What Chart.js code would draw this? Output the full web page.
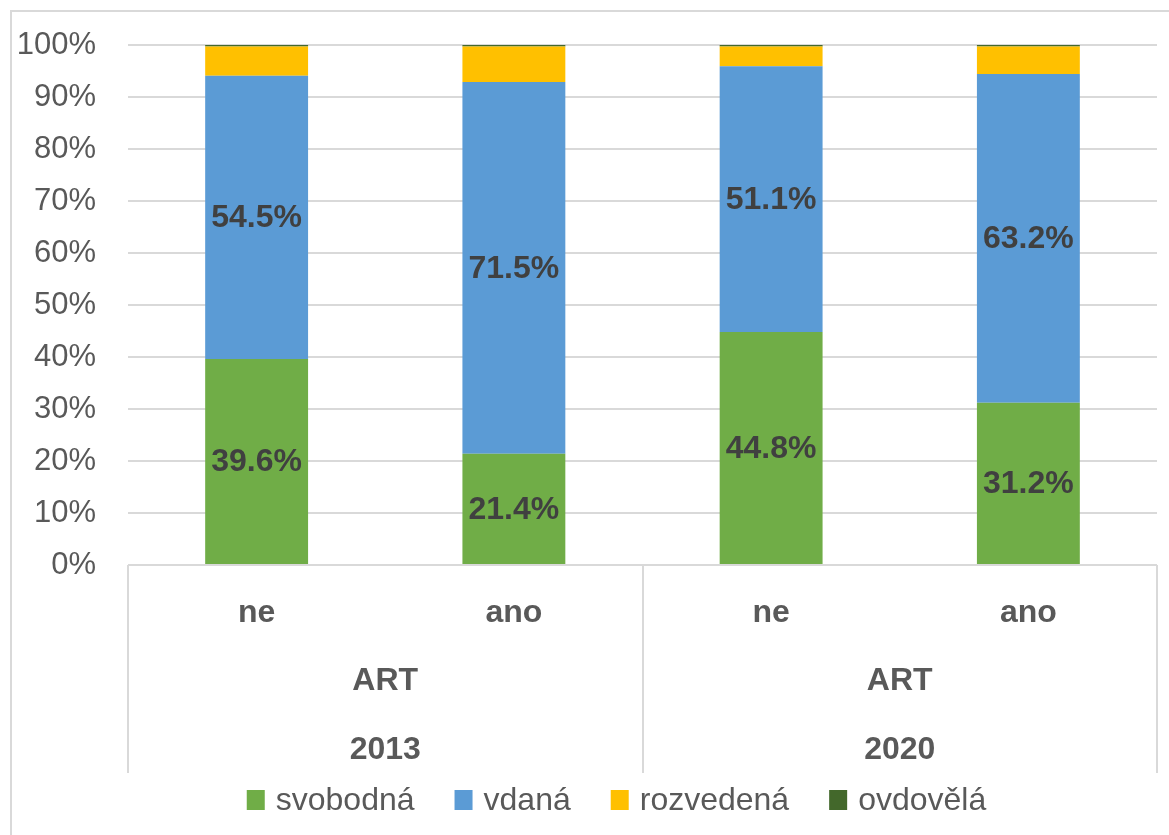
<!DOCTYPE html>
<html>
<head>
<meta charset="utf-8">
<script src="https://cdn.jsdelivr.net/npm/chart.js@4"></script>
<style>
  html, body { margin: 0; padding: 0; background: #ffffff; overflow: hidden; }
  #wrap { position: relative; width: 1169px; height: 835px; }
  #frame { position: absolute; left: 10px; top: 10px; width: 1200px; height: 900px;
           border-top: 2px solid #d9d9d9; border-left: 2px solid #d9d9d9; pointer-events: none; }
  canvas { position: absolute; left: 0; top: 0; }
</style>
</head>
<body>
<div id="wrap">
  <canvas id="c" width="1169" height="835"></canvas>
  <div id="frame"></div>
</div>
<script>
// ---- data ----
const categories = ['ne', 'ano', 'ne', 'ano'];
const groupLabels = ['ART', 'ART'];
const yearLabels = ['2013', '2020'];
const seriesNames = ['svobodná', 'vdaná', 'rozvedená', 'ovdovělá'];
const svobodna = [39.6, 21.4, 44.8, 31.2];
const vdana = [54.5, 71.5, 51.1, 63.2];
const rozvedena = [5.6, 6.8, 3.8, 5.3];
const ovdovela = [0.3, 0.3, 0.3, 0.3];
const yTicks = [0, 10, 20, 30, 40, 50, 60, 70, 80, 90, 100];
const labeledSeries = [0, 1];

const FONT = "'Liberation Sans', Arial, sans-serif";
const colors = ['#70AD47', '#5B9BD5', '#FFC000', '#43682B'];

const dataLabelPlugin = {
  id: 'dataLabels',
  afterDatasetsDraw(chart) {
    const ctx = chart.ctx;
    ctx.save();
    ctx.font = 'bold 32px ' + FONT;
    ctx.fillStyle = '#404040';
    ctx.textAlign = 'center';
    ctx.textBaseline = 'middle';
    labeledSeries.forEach(di => {
      const meta = chart.getDatasetMeta(di);
      meta.data.forEach((bar, i) => {
        const v = chart.data.datasets[di].data[i];
        const cy = (bar.y + bar.base) / 2;
        ctx.fillText(v.toFixed(1) + '%', bar.x, cy + 1);
      });
    });
    ctx.restore();
  }
};

const multiAxisPlugin = {
  id: 'multiAxis',
  afterDraw(chart) {
    const ctx = chart.ctx;
    const xs = chart.scales.x;
    const top = chart.chartArea.bottom;
    const bottom = xs.bottom;
    ctx.save();
    ctx.strokeStyle = '#d9d9d9';
    ctx.lineWidth = 2;
    const divs = [xs.left];
    for (let g = 1; g < yearLabels.length; g++) {
      divs.push(xs.getPixelForValue(g * 2 - 0.5));
    }
    divs.push(xs.right);
    divs.forEach(px => {
      ctx.beginPath();
      ctx.moveTo(Math.round(px), top);
      ctx.lineTo(Math.round(px), bottom);
      ctx.stroke();
    });
    ctx.font = 'bold 32px ' + FONT;
    ctx.fillStyle = '#595959';
    ctx.textAlign = 'center';
    ctx.textBaseline = 'middle';
    categories.forEach((c, i) => {
      ctx.fillText(c, xs.getPixelForValue(i), top + 48);
    });
    yearLabels.forEach((y, g) => {
      const cx = (xs.getPixelForValue(g * 2) + xs.getPixelForValue(g * 2 + 1)) / 2;
      ctx.fillText(groupLabels[g], cx, top + 116);
      ctx.fillText(y, cx, top + 185);
    });
    ctx.restore();
  }
};

const legendPlugin = {
  id: 'customLegend',
  afterDraw(chart) {
    const ctx = chart.ctx;
    const ds = chart.data.datasets;
    const boxW = 18, boxH = 20, gapText = 11, gapItem = 40;
    ctx.save();
    ctx.font = '32px ' + FONT;
    ctx.textBaseline = 'middle';
    ctx.textAlign = 'left';
    const widths = ds.map(d => boxW + gapText + ctx.measureText(d.label).width);
    const total = widths.reduce((a, b) => a + b, 0) + gapItem * (ds.length - 1);
    const cy = chart.scales.x.bottom + 27;
    let x = chart.width / 2 + 32 - total / 2;
    ds.forEach((d, i) => {
      ctx.fillStyle = d.backgroundColor;
      ctx.fillRect(x, cy - boxH / 2, boxW, boxH);
      ctx.fillStyle = '#595959';
      ctx.fillText(d.label, x + boxW + gapText, cy + 1);
      x += widths[i] + gapItem;
    });
    ctx.restore();
  }
};

new Chart(document.getElementById('c'), {
  type: 'bar',
  data: {
    labels: categories,
    datasets: [
      { label: seriesNames[0], data: svobodna, backgroundColor: colors[0] },
      { label: seriesNames[1], data: vdana, backgroundColor: colors[1] },
      { label: seriesNames[2], data: rozvedena, backgroundColor: colors[2] },
      { label: seriesNames[3], data: ovdovela, backgroundColor: colors[3] }
    ]
  },
  options: {
    responsive: false,
    animation: false,
    layout: { padding: { top: 45, left: 10, right: 12, bottom: 62 } },
    datasets: { bar: { categoryPercentage: 1.0, barPercentage: 0.4 } },
    plugins: {
      tooltip: { enabled: false },
      legend: { display: false }
    },
    scales: {
      x: {
        stacked: true,
        ticks: { display: false },
        grid: { display: false },
        border: { display: false },
        afterFit(s) { s.height = 208; }
      },
      y: {
        stacked: true,
        min: 0,
        max: 100,
        afterBuildTicks(s) { s.ticks = yTicks.map(v => ({ value: v })); },
        ticks: {
          font: { family: FONT, size: 31 },
          color: '#595959',
          padding: 32,
          callback: v => v + '%'
        },
        grid: { color: '#d9d9d9', lineWidth: 2, drawTicks: false },
        border: { display: false },
        afterFit(s) { s.width = 118; s.paddingTop = 0; s.paddingBottom = 0; }
      }
    }
  },
  plugins: [dataLabelPlugin, multiAxisPlugin, legendPlugin]
});
</script>
</body>
</html>
